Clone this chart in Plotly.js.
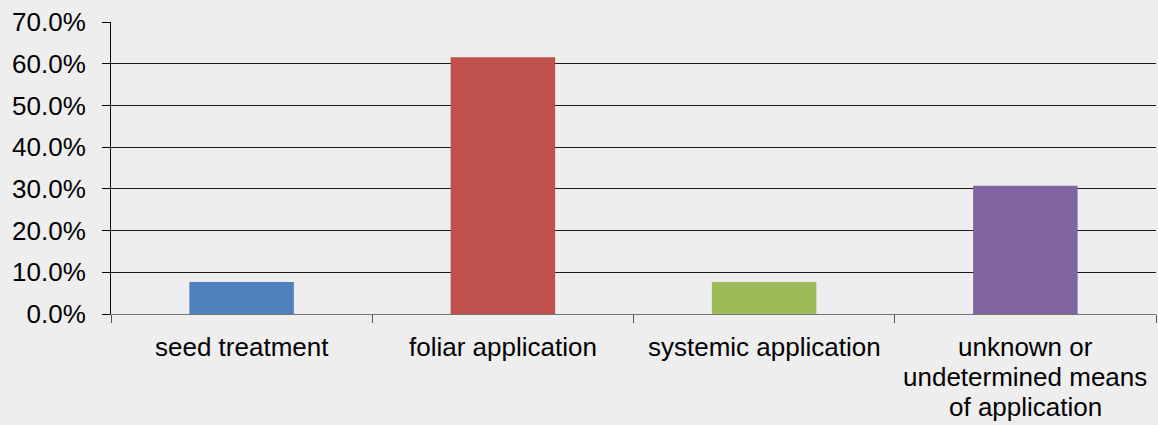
<!DOCTYPE html>
<html>
<head>
<meta charset="utf-8">
<script src="https://cdn.plot.ly/plotly-3.0.1.min.js"></script>
<style>
html,body{margin:0;padding:0;background:#eeeeee;}
#chart{width:1158px;height:425px;}
</style>
</head>
<body>
<div id="chart"></div>
<script>
const categories = ["seed treatment", "foliar application", "systemic application", "unknown or undetermined means of application"];
const labelLines = [["seed treatment"], ["foliar application"], ["systemic application"], ["unknown or", "undetermined means", "of application"]];
const values = [0.0769, 0.6154, 0.0769, 0.3077];
const barColors = ["#4f81bd", "#c0504d", "#9bbb59", "#8064a2"];
const yTickVals = [0, 0.1, 0.2, 0.3, 0.4, 0.5, 0.6, 0.7];

const trace = {
  type: "bar",
  x: categories,
  y: values,
  marker: {color: barColors},
  hoverinfo: "skip"
};

const annotations = [];
labelLines.forEach((lines, i) => {
  lines.forEach((line, j) => {
    annotations.push({
      x: categories[i], xref: "x",
      y: 0, yref: "y",
      text: line,
      showarrow: false,
      xanchor: "center",
      yanchor: "top",
      yshift: -17 - 30 * j,
      borderpad: 0,
      font: {size: 26, color: "#000000"}
    });
  });
});

const layout = {
  width: 1158,
  height: 425,
  paper_bgcolor: "#eeeeee",
  plot_bgcolor: "#eeeeee",
  margin: {l: 111, r: 2, t: 22, b: 111, pad: 0},
  bargap: 0.6,
  showlegend: false,
  font: {family: "Liberation Sans, Arial, sans-serif", size: 26, color: "#000000"},
  annotations: annotations,
  xaxis: {
    type: "category",
    tickson: "boundaries",
    ticks: "outside",
    ticklen: 8,
    tickcolor: "#555555",
    tickwidth: 1,
    showticklabels: false,
    showline: true,
    linecolor: "#777777",
    linewidth: 1,
    showgrid: false,
    zeroline: false
  },
  yaxis: {
    range: [0, 0.7],
    tickvals: yTickVals,
    tickformat: ".1%",
    ticks: "outside",
    ticklen: 8,
    tickcolor: "#000000",
    ticklabelstandoff: 11,
    showline: true,
    linecolor: "#000000",
    linewidth: 1,
    showgrid: true,
    gridcolor: "#1a1a1a",
    gridwidth: 1,
    zeroline: false,
    tickfont: {size: 26}
  }
};

Plotly.newPlot("chart", [trace], layout, {staticPlot: true, displayModeBar: false});
</script>
</body>
</html>
